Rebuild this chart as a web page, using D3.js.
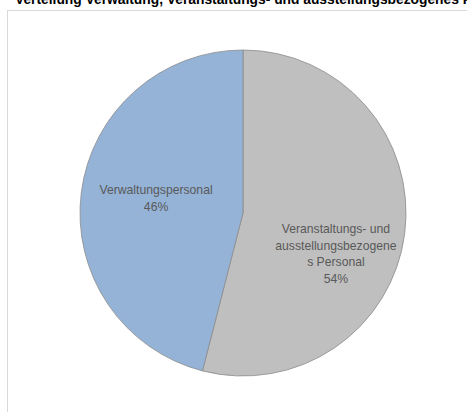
<!DOCTYPE html>
<html><head><meta charset="utf-8">
<script src="https://cdn.jsdelivr.net/npm/d3@7"></script>
<style>body{margin:0;background:#fff;}svg{display:block;}</style>
</head><body>
<script>
const title = "Verteilung Verwaltung, Veranstaltungs- und ausstellungsbezogenes Personal";
const categories = ["Veranstaltungs- und ausstellungsbezogenes Personal", "Verwaltungspersonal"];
const labelLines = [["Veranstaltungs- und", "ausstellungsbezogene", "s Personal"], ["Verwaltungspersonal"]];
const values = [54, 46];
const colors = ["#bfbfbf", "#95b3d7"];

const W = 467, H = 412;
const svg = d3.select("body").append("svg").attr("width", W).attr("height", H);

svg.append("rect").attr("x", 7.5).attr("y", 10.5).attr("width", 600).attr("height", 600)
  .attr("fill", "#fff").attr("stroke", "#d9d9d9").attr("stroke-width", 1);

svg.append("text").attr("x", 15).attr("y", 4)
  .attr("font-family", "Liberation Sans, Arial, sans-serif").attr("font-weight", "bold")
  .attr("font-size", 13.8).attr("fill", "#000").text(title);

const cx = 243, cy = 213, R = 163;
const pie = d3.pie().sort(null).value(d => d)(values);
const arc = d3.arc().innerRadius(0).outerRadius(R);
const g = svg.append("g").attr("transform", `translate(${cx},${cy})`);
g.selectAll("path").data(pie).join("path")
  .attr("d", arc).attr("fill", (d, i) => colors[i])
  .attr("stroke", "#8c8c8c").attr("stroke-width", 0.8);

const labelArc = d3.arc().innerRadius(R * 0.55).outerRadius(R * 0.55);
const extraDx = [4, 2];
const extraDy = [30, -3.5];
const lh = 16.5;
g.selectAll("text.lbl").data(pie).join("text").attr("class", "lbl")
  .attr("font-family", "Liberation Sans, Arial, sans-serif").attr("font-size", 12.2)
  .attr("fill", "#595959").attr("text-anchor", "middle")
  .each(function(d, i) {
    const [x, y] = labelArc.centroid(d);
    const lines = labelLines[i].concat([values[i] + "%"]);
    const y0 = y + extraDy[i] - (lines.length - 1) * lh / 2 + 4;
    const t = d3.select(this);
    lines.forEach((ln, k) => t.append("tspan").attr("x", x + extraDx[i]).attr("y", y0 + k * lh).text(ln));
  });
</script>
</body></html>
